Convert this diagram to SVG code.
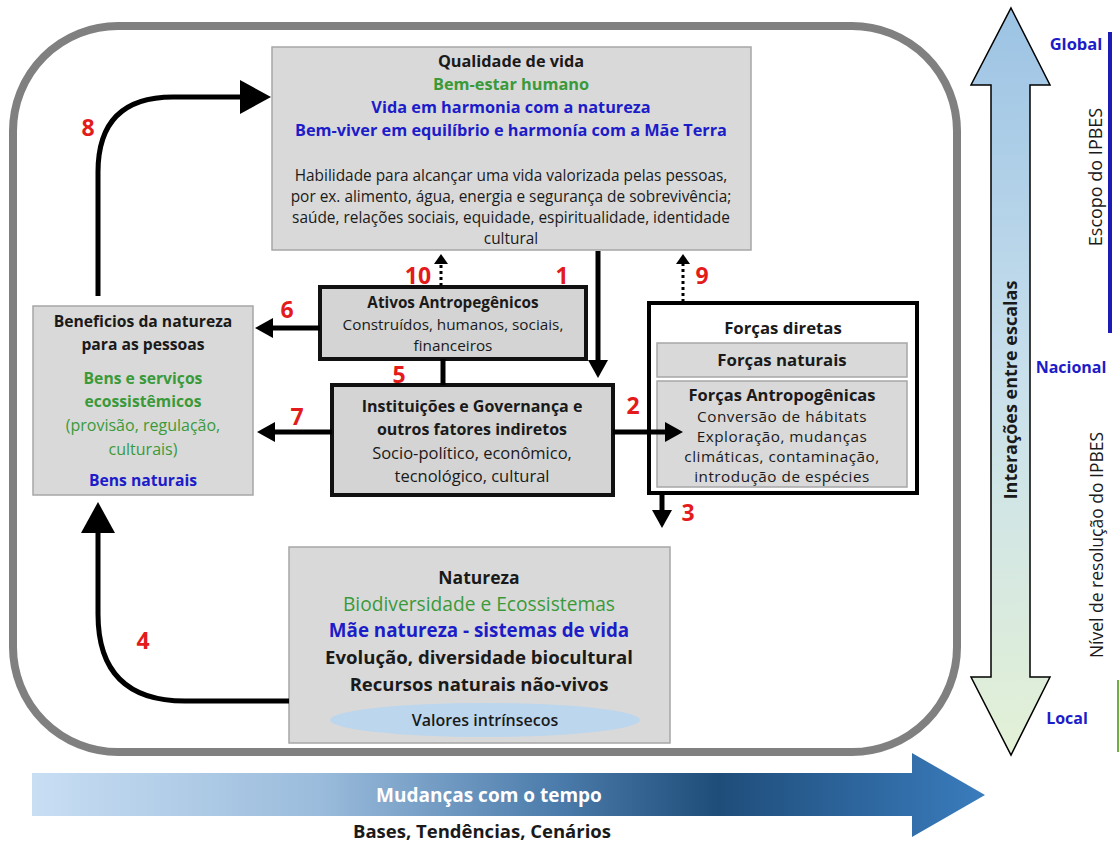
<svg xmlns="http://www.w3.org/2000/svg" width="1119" height="843" viewBox="0 0 1119 843">
<defs>
<style>
.t{font-family:"Open Sans","Liberation Sans",sans-serif;text-anchor:middle;fill:#1a1a1a}
.b{font-weight:bold}
.g{fill:#3a9a3a}
.bl{fill:#1c1cc8}
.fa{font-size:15.3px;letter-spacing:0.5px}
.num{font-family:"Open Sans","Liberation Sans",sans-serif;font-weight:bold;font-size:23px;fill:#e31b1b;text-anchor:middle}
.gbox{fill:#d9d9d9;stroke:#a6a6a6;stroke-width:1.5}
.kbox{fill:#d4d4d4;stroke:#111;stroke-width:4}
.con{fill:none;stroke:#000;stroke-width:5}
.dot{fill:none;stroke:#000;stroke-width:3;stroke-dasharray:3 3}
</style>
<marker id="big" markerUnits="userSpaceOnUse" markerWidth="32" markerHeight="36" refX="0" refY="17" orient="auto"><path d="M0,0 L31,17 L0,34 z" fill="#000"/></marker>
<marker id="mid" markerUnits="userSpaceOnUse" markerWidth="20" markerHeight="22" refX="0" refY="10" orient="auto"><path d="M0,0 L18,10 L0,20 z" fill="#000"/></marker>
<marker id="sm" markerUnits="userSpaceOnUse" markerWidth="12" markerHeight="14" refX="0" refY="7" orient="auto"><path d="M0,0 L10,7 L0,14 z" fill="#000"/></marker>
<linearGradient id="vgrad" x1="0" y1="0" x2="0" y2="1"><stop offset="0" stop-color="#9cc3e4"/><stop offset="0.5" stop-color="#c9e0ec"/><stop offset="1" stop-color="#e3f1d6"/></linearGradient>
<linearGradient id="hgrad" x1="32" y1="0" x2="985" y2="0" gradientUnits="userSpaceOnUse"><stop offset="0" stop-color="#c8def3"/><stop offset="0.3" stop-color="#9bbcdc"/><stop offset="0.55" stop-color="#4c7cab"/><stop offset="0.72" stop-color="#1f4d7a"/><stop offset="1" stop-color="#3a7cbd"/></linearGradient>
</defs>
<rect width="1119" height="843" fill="#fff"/>
<rect id="frame" x="13" y="26" width="944" height="726" rx="105" fill="none" stroke="#808080" stroke-width="8"/>

<g id="qualidade">
<rect class="gbox" x="272" y="47" width="479" height="203"/>
<text class="t b" x="511" y="67" font-size="16.3">Qualidade de vida</text>
<text class="t b g" x="511" y="90" font-size="16.3">Bem-estar humano</text>
<text class="t b bl" x="511" y="113" font-size="16.3">Vida em harmonia com a natureza</text>
<text class="t b bl" x="511" y="136" font-size="16.3">Bem-viver em equilíbrio e harmonía com a Mãe Terra</text>
<text class="t" x="511" y="181" font-size="15.4">Habilidade para alcançar uma vida valorizada pelas pessoas,</text>
<text class="t" x="511" y="202" font-size="15.4">por ex. alimento, água, energia e segurança de sobrevivência;</text>
<text class="t" x="511" y="223" font-size="15.4">saúde, relações sociais, equidade, espiritualidade, identidade</text>
<text class="t" x="511" y="244" font-size="15.4">cultural</text>
</g>

<g id="beneficios">
<rect class="gbox" x="33" y="306" width="220" height="189"/>
<text class="t b" x="143" y="327" font-size="15.7">Beneficios da natureza</text>
<text class="t b" x="143" y="350" font-size="15.7">para as pessoas</text>
<text class="t b g" x="143" y="384" font-size="15.7">Bens e serviços</text>
<text class="t b g" x="143" y="407" font-size="15.7">ecossistêmicos</text>
<text class="t g" x="143" y="431" font-size="16">(provisão, regulação,</text>
<text class="t g" x="143" y="455" font-size="16">culturais)</text>
<text class="t b bl" x="143" y="486" font-size="15.7">Bens naturais</text>
</g>

<g id="ativos">
<rect class="kbox" x="320" y="287" width="266" height="72"/>
<text class="t b" x="453" y="308" font-size="15.3">Ativos Antropegênicos</text>
<text class="t" x="453" y="330" font-size="15.3">Construídos, humanos, sociais,</text>
<text class="t" x="453" y="351" font-size="15.3">financeiros</text>
</g>

<g id="instituicoes">
<rect class="kbox" x="332" y="385" width="281" height="110"/>
<text class="t b" x="472" y="412" font-size="16">Instituições e Governança e</text>
<text class="t b" x="472" y="435" font-size="16">outros fatores indiretos</text>
<text class="t" x="472" y="459" font-size="16.5">Socio-político, econômico,</text>
<text class="t" x="472" y="482" font-size="16.5">tecnológico, cultural</text>
</g>

<g id="forcas">
<rect x="649" y="303" width="268" height="190" fill="#fff" stroke="#000" stroke-width="4"/>
<text class="t b" x="783" y="334" font-size="16.8">Forças diretas</text>
<rect class="gbox" x="657" y="343" width="250" height="34"/>
<text class="t b" x="782" y="366" font-size="16.8">Forças naturais</text>
<rect class="gbox" x="657" y="381" width="250" height="106"/>
<text class="t b" x="782" y="401" font-size="16.5">Forças Antropogênicas</text>
<text class="t fa" x="782" y="422">Conversão de hábitats</text>
<text class="t fa" x="782" y="442">Exploração, mudanças</text>
<text class="t fa" x="782" y="462">climáticas, contaminação,</text>
<text class="t fa" x="782" y="482">introdução de espécies</text>
</g>

<g id="natureza">
<rect class="gbox" x="289" y="547" width="381" height="196"/>
<text class="t b" x="479" y="584" font-size="17.5">Natureza</text>
<text class="t g" x="479" y="611" font-size="19.2">Biodiversidade e Ecossistemas</text>
<text class="t b bl" x="479" y="637" font-size="18.8">Mãe natureza - sistemas de vida</text>
<text class="t b" x="479" y="664" font-size="18.6">Evolução, diversidade biocultural</text>
<text class="t b" x="479" y="691" font-size="18.5">Recursos naturais não-vivos</text>
<ellipse cx="485" cy="720" rx="155" ry="17" fill="#bcd6ee"/>
<text class="t" x="485" y="726" font-size="16" font-weight="600">Valores intrínsecos</text>
</g>

<g id="connectors">
<path class="con" d="M98,296 L98,172 Q98,97 173,97 L240,97" marker-end="url(#big)"/>
<path class="con" d="M289,701 L185,701 Q98,701 98,614 L98,533" marker-end="url(#big)"/>
<path class="con" d="M598,251 L598,360" marker-end="url(#mid)"/>
<path class="con" d="M613,432 L665,432" marker-end="url(#mid)"/>
<path class="con" d="M662,493 L662,510" marker-end="url(#mid)"/>
<path class="con" d="M320,328 L273,328" marker-end="url(#mid)"/>
<path class="con" d="M332,432 L275,432" marker-end="url(#mid)"/>
<path class="con" d="M443,359 L443,385" stroke-width="4"/>
<path class="dot" d="M441,286 L441,264" marker-end="url(#sm)"/>
<path class="dot" d="M683,302 L683,264" marker-end="url(#sm)"/>
</g>

<g id="numbers">
<text class="num" x="562" y="284">1</text>
<text class="num" x="633" y="414">2</text>
<text class="num" x="688" y="521">3</text>
<text class="num" x="143" y="649">4</text>
<text class="num" x="399" y="383">5</text>
<text class="num" x="287" y="318">6</text>
<text class="num" x="297" y="425">7</text>
<text class="num" x="88" y="136">8</text>
<text class="num" x="702" y="284">9</text>
<text class="num" x="418" y="284">10</text>
</g>

<g id="escalas">
<path d="M1011,8 L1050,85 L1030,85 L1030,677 L1050,677 L1011,755 L971,677 L991,677 L991,85 L971,85 z" fill="url(#vgrad)" stroke="#000" stroke-width="1.5"/>
<text class="t b" transform="translate(1017,390) rotate(-90)" font-size="18">Interações entre escalas</text>
<text class="t b bl" x="1076" y="50" font-size="16.5">Global</text>
<text class="t b bl" x="1071" y="373" font-size="16">Nacional</text>
<text class="t b bl" x="1067" y="724" font-size="16">Local</text>
<line x1="1110" y1="32" x2="1110" y2="333" stroke="#1c1cb4" stroke-width="4"/>
<text class="t" transform="translate(1102,177) rotate(-90)" font-size="18">Escopo do IPBES</text>
<line x1="1118" y1="680" x2="1118" y2="752" stroke="#70ad47" stroke-width="2"/>
<text class="t" transform="translate(1103,545) rotate(-90)" font-size="17.5">Nível de resolução do IPBES</text>
</g>

<g id="tempo">
<path d="M32,773 L912,773 L912,753 L985,795 L912,837 L912,816 L32,816 z" fill="url(#hgrad)"/>
<text class="t b" x="489" y="802" font-size="19" style="fill:#fff">Mudanças com o tempo</text>
<text class="t b" x="482" y="838" font-size="18.5">Bases, Tendências, Cenários</text>
</g>
</svg>
